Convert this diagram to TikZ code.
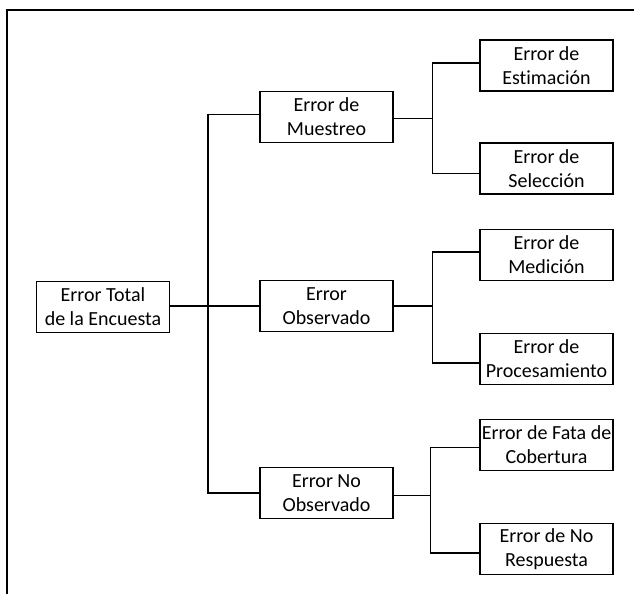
\documentclass[tikz,border=0pt]{standalone}
\usepackage{fontspec}
\setmainfont[Ligatures=NoCommon]{Carlito}
\begin{document}
\begin{tikzpicture}[x=0.75pt,y=-0.75pt,
  box/.style={draw, line width=0.9pt, minimum width=99.75pt, minimum height=38.25pt,
    align=center, inner sep=0pt, font=\fontsize{15}{18}\selectfont},
  conn/.style={line width=0.9pt},
  frame/.style={line width=1pt}]
\useasboundingbox (0,0) rectangle (634,594);
\draw[frame] (7,594) -- (7,10) -- (634,10);

\node[box] (root) at (103,307) {Error Total\\de la Encuesta};
\node[box] (m1) at (326.5,117) {Error de\\Muestreo};
\node[box] (m2) at (326.5,306) {Error\\Observado};
\node[box] (m3) at (326.5,493) {Error No\\Observado};

\node[box] (l1) at (546.5,65.5) {Error de\\Estimación};
\node[box] (l2) at (546.5,168.5) {Error de\\Selección};
\node[box] (l3) at (546.5,255) {Error de\\Medición};
\node[box] (l4) at (546.5,359) {Error de\\Procesamiento};
\node[box] (l5) at (546.5,445) {Error de Fata de\\Cobertura};
\node[box] (l6) at (546.5,549) {Error de No\\Respuesta};

% first level
\coordinate (t0) at (208,306);
\draw[conn] (root.east |- t0) -- (t0);
\draw[conn] ([yshift=2pt]m1.west) -| (t0) |- (m3.west);
\draw[conn] (t0) -- (m2.west);

% second level
\draw[conn] ([yshift=-1pt]m1.east) -- ++(39,0) coordinate (t1);
\draw[conn] ([yshift=1.9pt]l1.west) -| (t1) |- ([yshift=-4pt]l2.west);
\draw[conn] (m2.east) -- ++(39,0) coordinate (t2);
\draw[conn] ([yshift=2.25pt]l3.west) -| (t2) |- ([yshift=-3pt]l4.west);
\draw[conn] ([yshift=-2pt]m3.east) -- ++(37,0) coordinate (t3);
\draw[conn] ([yshift=-2pt]l5.west) -| (t3) |- ([yshift=-3pt]l6.west);
\end{tikzpicture}
\end{document}
